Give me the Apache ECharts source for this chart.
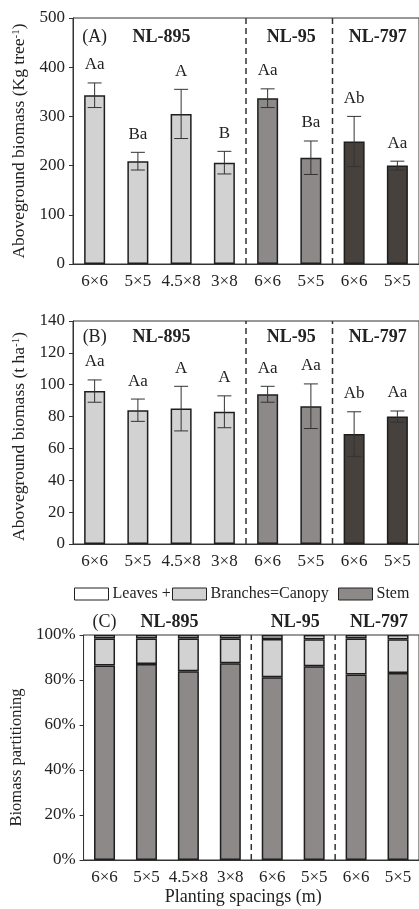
<!DOCTYPE html>
<html>
<head>
<meta charset="utf-8">
<script src="https://cdn.jsdelivr.net/npm/echarts@6/dist/echarts.min.js"></script>
<style>
  html, body { margin: 0; padding: 0; background: #fff; }
  #chart { width: 419px; height: 909px; }
</style>
</head>
<body>
<div id="chart"></div>
<script>
// Planting spacings (m), grouped by clone
const spacings = ['6×6', '5×5', '4.5×8', '3×8', '6×6', '5×5', '6×6', '5×5'];
const cloneNames = ['NL-895', 'NL-95', 'NL-797'];
const cloneSizes = [4, 2, 2];

// (A) aboveground biomass per tree (kg tree-1): mean, standard error, letters
const treeMean = [343, 209, 305, 206, 337, 216, 249, 200];
const treeErr = [25, 18, 50, 23, 19, 34, 51, 9];
const treeLetters = ['Aa', 'Ba', 'A', 'B', 'Aa', 'Ba', 'Ab', 'Aa'];

// (B) aboveground biomass per hectare (t ha-1)
const haMean = [96, 84, 85, 83, 94, 86.5, 69, 80];
const haErr = [7, 7, 14, 10, 5, 14, 14, 3.5];
const haLetters = ['Aa', 'Aa', 'A', 'A', 'Aa', 'Aa', 'Ab', 'Aa'];

// (C) biomass partitioning (%)
const stemPct = [86.4, 87.1, 83.9, 87.4, 81.2, 86.1, 82.5, 83.1];
const branchPct = [12.1, 11.4, 14.5, 11.1, 17.0, 12.0, 16.0, 15.0];
const leafPct = [1.5, 1.5, 1.6, 1.5, 1.8, 1.9, 1.5, 1.9];

const FONT = "'Liberation Serif', 'Times New Roman', serif";
const INK = '#222';
const cloneColors = ['#d3d2d3', '#8c8988', '#46413d'];
const stemColor = '#8c8988';
const branchColor = '#d3d2d3';
const leafColor = '#ffffff';

// clone index of each category
const cloneOf = [];
cloneSizes.forEach((n, g) => { for (let k = 0; k < n; k++) cloneOf.push(g); });

// group boundaries: [first category index, 0, count]
const groups = [];
{ let s = 0; cloneSizes.forEach((n) => { groups.push([s, 0, n]); s += n; }); }

const grids = [
  { left: 73, top: 18, width: 350, height: 246 },
  { left: 73, top: 321, width: 350, height: 223 },
  { left: 73, top: 635, width: 350, height: 225 }
].map(g => Object.assign(g, { show: true, borderColor: '#333', borderWidth: 1, backgroundColor: 'transparent' }));

const panelTags = ['(A)', '(B)', '(C)'];
const titleOffsets = [19, 16, -13];

function xAxisFor(i) {
  const ax = {
    type: 'category', gridIndex: i, data: spacings, boundaryGap: true,
    axisLine: { lineStyle: { color: '#333', width: 1 } },
    axisTick: { alignWithLabel: true, length: 4, lineStyle: { color: '#333' } },
    axisLabel: { fontFamily: FONT, fontSize: 17, color: INK, margin: 9, interval: 0 }
  };
  if (i === 2) {
    ax.name = 'Planting spacings (m)';
    ax.nameLocation = 'middle';
    ax.nameGap = 28;
    ax.nameTextStyle = { fontFamily: FONT, fontSize: 18, color: INK, padding: [0, 16, 0, 0] };
  }
  return ax;
}

function yAxisFor(i, max, interval, name, gap, size, pad, fmt) {
  return {
    type: 'value', gridIndex: i, min: 0, max: max, interval: interval,
    splitLine: { show: false },
    axisLine: { show: true, lineStyle: { color: '#333', width: 1 } },
    axisTick: { show: true, length: 4, lineStyle: { color: '#333' } },
    axisLabel: { fontFamily: FONT, fontSize: 17, color: INK, margin: 8, formatter: fmt },
    name: name, nameLocation: 'middle', nameGap: gap, nameRotate: 90,
    nameTextStyle: {
      fontFamily: FONT, fontSize: size, color: INK, padding: pad,
      rich: {
        n: { fontFamily: FONT, fontSize: size, color: INK },
        s: { fontFamily: FONT, fontSize: 11, color: INK, verticalAlign: 'top' }
      }
    }
  };
}

// error bars with significance letters above them
function errorSeries(axisIdx, mean, err, letters) {
  return {
    type: 'custom', xAxisIndex: axisIdx, yAxisIndex: axisIdx, z: 5,
    data: mean.map((m, i) => [i, m - err[i], m + err[i]]),
    encode: { x: 0, y: [1, 2] },
    renderItem: function (params, api) {
      const x = api.value(0);
      const lo = api.coord([x, api.value(1)]);
      const hi = api.coord([x, api.value(2)]);
      const cap = 7;
      const st = { stroke: '#333', lineWidth: 1 };
      return {
        type: 'group',
        children: [
          { type: 'line', shape: { x1: lo[0], y1: lo[1], x2: hi[0], y2: hi[1] }, style: st },
          { type: 'line', shape: { x1: lo[0] - cap, y1: lo[1], x2: lo[0] + cap, y2: lo[1] }, style: st },
          { type: 'line', shape: { x1: hi[0] - cap, y1: hi[1], x2: hi[0] + cap, y2: hi[1] }, style: st },
          { type: 'text', style: { text: letters[params.dataIndex], x: hi[0], y: hi[1] - 18,
              align: 'center', verticalAlign: 'middle', fontFamily: FONT, fontSize: 17, fill: INK } }
        ]
      };
    }
  };
}

// clone separators, clone names and panel tag
function groupSeries(axisIdx) {
  return {
    type: 'custom', xAxisIndex: axisIdx, yAxisIndex: axisIdx, z: 6, silent: true,
    data: groups,
    encode: { x: 0, y: 1 },
    renderItem: function (params, api) {
      const start = api.value(0);
      const count = api.value(2);
      const bw = api.size([1, 0])[0];
      const cs = params.coordSys;
      const x0 = api.coord([start, 0])[0] - bw / 2;
      const x1 = api.coord([start + count - 1, 0])[0] + bw / 2;
      const ty = cs.y + titleOffsets[axisIdx];
      const children = [
        { type: 'text', style: { text: cloneNames[params.dataIndex], x: (x0 + x1) / 2 + 2, y: ty,
            align: 'center', verticalAlign: 'middle', fontFamily: FONT, fontSize: 18, fontWeight: 'bold', fill: INK } }
      ];
      if (params.dataIndex < groups.length - 1) {
        children.push({ type: 'line', shape: { x1: x1, y1: cs.y + cs.height, x2: x1, y2: cs.y },
          style: { stroke: '#333', lineWidth: 1.5, lineDash: [6, 4] } });
      }
      if (params.dataIndex === 0) {
        children.push({ type: 'text', style: { text: panelTags[axisIdx], x: api.coord([0, 0])[0], y: ty,
            align: 'center', verticalAlign: 'middle', fontFamily: FONT, fontSize: 18, fill: INK } });
      }
      return { type: 'group', children: children };
    }
  };
}

const barBorder = { borderColor: '#1e1e1e', borderWidth: 1.5 };

function meanBars(axisIdx, mean) {
  return {
    type: 'bar', xAxisIndex: axisIdx, yAxisIndex: axisIdx, barWidth: 21,
    data: mean.map((v, i) => ({ value: v, itemStyle: Object.assign({ color: cloneColors[cloneOf[i]] }, barBorder) }))
  };
}

function stackBars(name, values, color) {
  return {
    name: name, type: 'bar', stack: 'part', xAxisIndex: 2, yAxisIndex: 2, barWidth: 21,
    itemStyle: Object.assign({ color: color }, barBorder),
    data: values
  };
}

function legendFor(name, left, color) {
  return {
    data: [{ name: name, itemStyle: { color: color, borderColor: '#222', borderWidth: 1 } }],
    left: left, top: 586, icon: 'rect', itemWidth: 34, itemHeight: 12, itemGap: 0,
    selectedMode: false, padding: 0,
    textStyle: { fontFamily: FONT, fontSize: 16, color: INK, padding: [0, 0, 0, -1] }
  };
}

const option = {
  animation: false,
  backgroundColor: '#fff',
  grid: grids,
  legend: [
    legendFor('Leaves +', 74, leafColor),
    legendFor('Branches=Canopy', 172, branchColor),
    legendFor('Stem', 338, stemColor)
  ],
  xAxis: [xAxisFor(0), xAxisFor(1), xAxisFor(2)],
  yAxis: [
    yAxisFor(0, 500, 100, '{n|Aboveground biomass (Kg tree}{s|-1}{n|)}', 44, 17.5, 0),
    yAxisFor(1, 140, 20, '{n|Aboveground biomass (t ha}{s|-1}{n|)}', 44, 17.5, [0, 8, 0, 0]),
    yAxisFor(2, 100, 20, 'Biomass partitioning', 45, 16.5, [0, 20, 0, 0], '{value}%')
  ],
  series: [
    meanBars(0, treeMean),
    errorSeries(0, treeMean, treeErr, treeLetters),
    groupSeries(0),
    meanBars(1, haMean),
    errorSeries(1, haMean, haErr, haLetters),
    groupSeries(1),
    stackBars('Stem', stemPct, stemColor),
    stackBars('Branches=Canopy', branchPct, branchColor),
    stackBars('Leaves +', leafPct, leafColor),
    groupSeries(2)
  ]
};

const chart = echarts.init(document.getElementById('chart'), null, { renderer: 'canvas' });
chart.setOption(option);
</script>
</body>
</html>
